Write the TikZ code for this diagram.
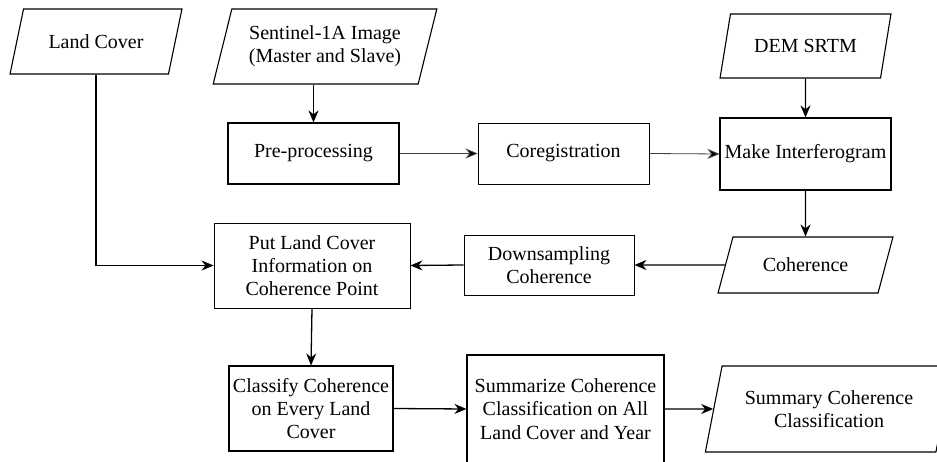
\documentclass[tikz,border=0pt]{standalone}
\usepackage{fontspec}
\IfFontExistsTF{LiberationSerif-Regular.ttf}
  {\newfontfamily\diagfont{LiberationSerif-Regular.ttf}}
  {\newfontfamily\diagfont{Latin Modern Roman}}
\usetikzlibrary{shapes.geometric,arrows.meta}
\begin{document}
\begin{tikzpicture}[x=1pt,y=-1pt,
  every node/.style={font=\diagfont\fontsize{20}{23.3}\selectfont, align=center, inner sep=2pt},
  procbox/.style={draw, line width=1.1pt, rectangle},
  databox/.style={draw, line width=1.1pt, shape=trapezium, trapezium stretches=true},
  arr/.style={line width=1.3pt, -{Stealth[length=12pt,width=10pt]}},
  thinarr/.style={line width=0.8pt, draw=black!75, -{Stealth[length=12pt,width=10pt,fill=black]}}
]
\useasboundingbox (0,0) rectangle (937,462);
\clip (0,0) rectangle (937,462);
\fill[white] (0,0) rectangle (937,462);

% data (parallelogram) nodes
\node[databox, trapezium left angle=63, trapezium right angle=117,
  minimum width=172, minimum height=65] (lc) at (96,41.5) {Land Cover};
\node[databox, trapezium left angle=71, trapezium right angle=109,
  minimum width=224, minimum height=75] (sen) at (325,46.5) {Sentinel-1A Image\\(Master and Slave)};
\node[databox, trapezium left angle=67, trapezium right angle=113,
  minimum width=171, minimum height=64] (dem) at (805.5,46) {DEM SRTM};
\node[databox, trapezium left angle=63, trapezium right angle=117,
  minimum width=175, minimum height=56] (coh) at (805.5,265) {Coherence};
\node[databox, trapezium left angle=72, trapezium right angle=108,
  minimum width=248, minimum height=86] (sum) at (829,409) {Summary Coherence\\Classification};

% process nodes
\node[procbox, minimum width=171, minimum height=61] (pre) at (313.5,153.5) {Pre-processing};
\node[procbox, line width=0.9pt, minimum width=171, minimum height=61] (cor) at (563.5,153.5) {Coregistration};
\node[procbox, minimum width=171, minimum height=72, inner sep=1pt] (mi) at (805.5,154) {Make Interferogram};
\node[procbox, line width=0.9pt, minimum width=170, minimum height=60] (down) at (549,265) {Downsampling\\Coherence};
\node[procbox, line width=0.9pt, minimum width=196, minimum height=85] (put) at (312,265.5) {Put Land Cover\\Information on\\Coherence Point};
\node[procbox, minimum width=164, minimum height=85, inner sep=1pt] (cls) at (311,408.5) {Classify Coherence\\on Every Land\\Cover};
\node[procbox, minimum width=197, minimum height=108] (summ) at (565.5,409) {Summarize Coherence\\Classification on All\\Land Cover and Year};

% connectors
\draw[arr] (lc.south) |- (put.west);
\draw[arr] (pre.north |- sen.south) -- (pre.north);
\draw[thinarr] (pre.east) -- (cor.west);
\draw[thinarr] (cor.east) -- (mi.west);
\draw[arr] (dem.south) -- (mi.north);
\draw[arr] (mi.south) -- (coh.north);
\draw[arr] (coh.west) -- (down.east);
\draw[arr] (down.west) -- (put.east);
\draw[arr] (put.south) -- (cls.north);
\draw[arr] (cls.east) -- (summ.west);
\draw[arr] (summ.east) -- (sum.west);
\end{tikzpicture}
\end{document}
